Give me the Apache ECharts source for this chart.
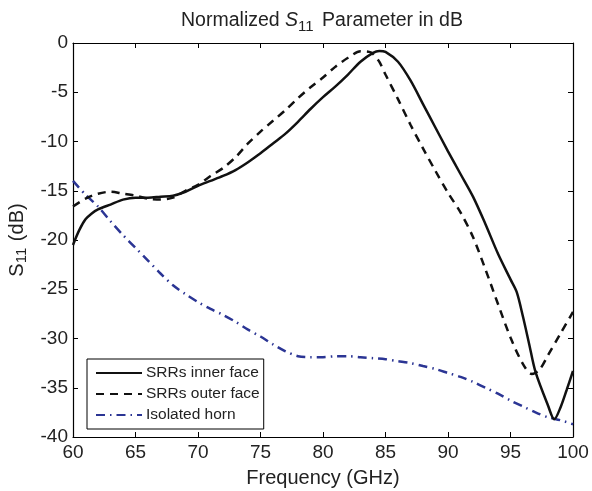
<!DOCTYPE html>
<html>
<head>
<meta charset="utf-8">
<script src="https://cdn.jsdelivr.net/npm/echarts@6/dist/echarts.min.js"></script>
<style>
  html, body { margin: 0; padding: 0; background: #fff; }
  #chart { width: 592px; height: 491px; }
</style>
</head>
<body>
<div id="chart"></div>
<script>
// SRRs inner face
const innerFreq = [60, 60.5, 61, 61.5, 62, 63, 64, 65, 66, 67, 68, 69, 70, 71, 72, 73, 74, 75, 76, 77, 78, 79, 80, 81, 82, 83, 84, 84.5, 85, 86, 87, 88, 89, 90, 91, 92, 93, 94, 95, 95.5, 96, 96.5, 97, 98, 98.5, 99, 99.5, 100];
const innerVal = [-20.5, -19.0, -17.9, -17.3, -16.9, -16.4, -15.9, -15.7, -15.7, -15.6, -15.5, -15.1, -14.5, -14.0, -13.5, -12.9, -12.1, -11.2, -10.2, -9.2, -8.0, -6.7, -5.5, -4.4, -3.2, -1.9, -1.0, -0.8, -0.9, -1.9, -3.8, -6.2, -8.6, -11.0, -13.3, -15.6, -18.4, -21.4, -24.0, -25.3, -27.8, -30.6, -33.4, -36.8, -38.2, -37.0, -35.2, -33.3];

// SRRs outer face
const outerFreq = [60, 61, 62, 63, 64, 65, 66, 67, 68, 69, 70, 71, 72, 73, 74, 75, 76, 77, 78, 79, 80, 81, 82, 83, 83.7, 84, 84.5, 85, 86, 87, 88, 89, 90, 91, 92, 93, 94, 95, 96, 96.7, 97.3, 98, 99, 100];
const outerVal = [-16.6, -15.8, -15.3, -15.1, -15.3, -15.5, -15.8, -15.9, -15.7, -15.0, -14.4, -13.5, -12.7, -11.6, -10.2, -9.0, -7.9, -6.8, -5.6, -4.5, -3.5, -2.4, -1.5, -0.85, -0.9, -1.1, -1.9, -3.2, -5.7, -8.3, -10.7, -13.0, -15.2, -17.2, -19.7, -23.0, -26.5, -29.9, -32.6, -33.6, -33.2, -31.7, -29.5, -27.3];

// Isolated horn
const hornFreq = [60, 61, 62, 63, 64, 65, 66, 67, 68, 69, 70, 71, 72, 73, 74, 75, 76, 77, 78, 79, 80, 81, 82, 83, 84, 85, 86, 87, 88, 89, 90, 91, 92, 93, 94, 95, 96, 97, 98, 99, 100];
const hornVal = [-14.0, -15.4, -16.6, -18.1, -19.5, -20.8, -22.1, -23.4, -24.6, -25.5, -26.3, -27.0, -27.6, -28.3, -29.1, -29.8, -30.6, -31.3, -31.8, -31.9, -31.9, -31.8, -31.8, -31.9, -32.0, -32.1, -32.3, -32.5, -32.8, -33.1, -33.5, -33.9, -34.4, -35.0, -35.6, -36.3, -36.9, -37.5, -38.0, -38.3, -38.7];

const xTicks = [60, 65, 70, 75, 80, 85, 90, 95, 100];
const yTicks = [0, -5, -10, -15, -20, -25, -30, -35, -40];

const pairs = (xs, ys) => xs.map((x, i) => [x, ys[i]]);

const chart = echarts.init(document.getElementById('chart'));
const font = '"Liberation Sans", Arial, sans-serif';

const axisBase = {
  type: 'value',
  axisLine: { show: true, onZero: false, lineStyle: { color: '#000', width: 1.2 } },
  axisTick: { show: true, inside: true, length: 5, lineStyle: { color: '#000' } },
  splitLine: { show: false },
};

const option = {
  animation: false,
  backgroundColor: '#fff',
  title: {
    text: 'Normalized {s|S}{sub|11} Parameter in dB',
    left: 317,
    textAlign: 'center',
    top: 3,
    textStyle: {
      fontFamily: font,
      fontSize: 19.5,
      fontWeight: 'normal',
      color: '#222',
      rich: {
        s: { fontFamily: font, fontSize: 19.5, fontStyle: 'italic', color: '#222' },
        sub: { fontFamily: font, fontSize: 15, color: '#222', padding: [11, 3, 0, 0] },
      },
    },
  },
  grid: { left: 73, right: 19, top: 43, bottom: 54, outerBoundsMode: 'none' },
  legend: {
    orient: 'vertical',
    left: 87,
    top: 359,
    width: 176,
    backgroundColor: '#fff',
    borderColor: '#000',
    borderWidth: 1,
    borderRadius: 0,
    padding: [6, 4, 6, 8],
    itemGap: 5,
    itemWidth: 46,
    itemHeight: 15,
    itemStyle: { color: 'rgba(0,0,0,0)', borderWidth: 0 },
    textStyle: { fontFamily: font, fontSize: 15.5, color: '#222', padding: [0, 0, 0, -1] },
    data: ['SRRs inner face', 'SRRs outer face', 'Isolated horn'],
  },
  xAxis: [
    {
      ...axisBase,
      min: 60, max: 100, interval: 5,
      position: 'bottom',
      name: 'Frequency (GHz)',
      nameLocation: 'middle',
      nameGap: 31,
      nameTextStyle: { fontFamily: font, fontSize: 20, color: '#222' },
      axisLabel: {
        fontFamily: font, fontSize: 19, color: '#222', margin: 6,
        formatter: v => (xTicks.includes(v) ? String(v) : ''),
      },
    },
    {
      ...axisBase,
      min: 60, max: 100, interval: 5,
      position: 'top',
      axisLabel: { show: false },
    },
  ],
  yAxis: [
    {
      ...axisBase,
      min: -40, max: 0, interval: 5,
      position: 'left',
      name: '{s|S}{sub|11} (dB)',
      nameLocation: 'middle',
      nameGap: 43,
      nameTextStyle: {
        fontFamily: font, fontSize: 20, color: '#222',
        rich: {
          s: { fontFamily: font, fontSize: 20, color: '#222' },
          sub: { fontFamily: font, fontSize: 15, color: '#222', padding: [10, 1, 0, 0] },
        },
      },
      axisLabel: {
        fontFamily: font, fontSize: 19, color: '#222', margin: 5,
        formatter: v => (yTicks.includes(v) ? String(v) : ''),
      },
    },
    {
      ...axisBase,
      min: -40, max: 0, interval: 5,
      position: 'right',
      axisLabel: { show: false },
    },
  ],
  series: [
    {
      name: 'SRRs inner face',
      type: 'line',
      data: pairs(innerFreq, innerVal),
      symbol: 'none',
      smooth: 0.3,
      color: '#111',
      lineStyle: { color: '#111', width: 2.5, type: 'solid' },
      z: 3,
    },
    {
      name: 'SRRs outer face',
      type: 'line',
      data: pairs(outerFreq, outerVal),
      symbol: 'none',
      smooth: 0.3,
      color: '#111',
      lineStyle: { color: '#111', width: 2.5, type: [8, 6] },
      z: 2,
    },
    {
      name: 'Isolated horn',
      type: 'line',
      data: pairs(hornFreq, hornVal),
      symbol: 'none',
      smooth: 0.3,
      color: '#2B3594',
      lineStyle: { color: '#2B3594', width: 2.5, type: [9, 5, 1.5, 5] },
      z: 1,
    },
  ],
};

chart.setOption(option);
</script>
</body>
</html>
